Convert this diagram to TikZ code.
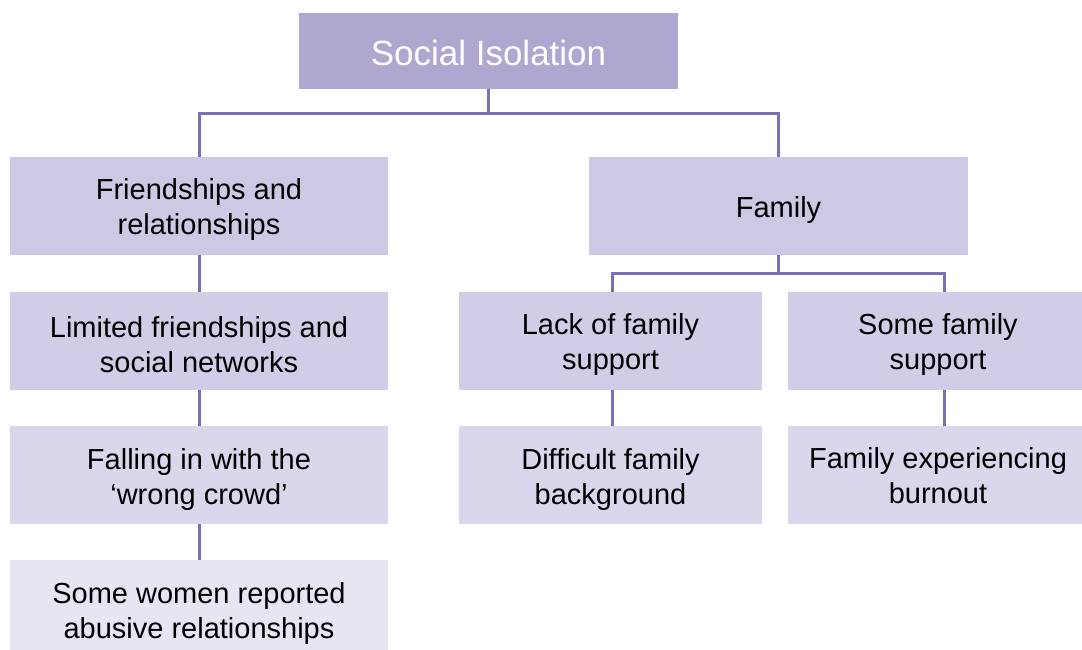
\documentclass[tikz,border=0pt]{standalone}
\usepackage{fontspec}
\setmainfont{Liberation Sans}
\definecolor{headfill}{HTML}{B0A7D1}
\definecolor{lvlA}{HTML}{CEC8E4}
\definecolor{lvlB}{HTML}{D2CDE7}
\definecolor{lvlC}{HTML}{DAD6EC}
\definecolor{lvlD}{HTML}{E8E5F2}
\definecolor{linkcol}{HTML}{7B6FB6}
\begin{document}
\begin{tikzpicture}[x=1pt,y=-1pt,
  box/.style={inner sep=0pt, minimum height=98pt},
  txt/.style={inner sep=0pt, align=center, text=black, yshift=-4pt,
    font=\fontsize{29}{35}\selectfont},
  link/.style={draw=linkcol, line width=3pt}]
\useasboundingbox (0,0) rectangle (1082,650);

% boxes, each with its caption set as a centred label
\node[box, fill=headfill, minimum width=379pt, minimum height=76pt,
      label={[txt, text=white, yshift=2pt, font=\fontsize{35}{40}\selectfont]center:Social Isolation}]
  (top) at (488.5,51) {};

\node[box, fill=lvlA, minimum width=378pt,
      label={[txt]center:{Friendships and\\relationships}}] (fr) at (199,206) {};
\node[box, fill=lvlA, minimum width=379pt,
      label={[txt]center:Family}] (fam) at (778.5,206) {};

\node[box, fill=lvlB, minimum width=378pt,
      label={[txt]center:{Limited friendships and\\social networks}}] (lim) at (199,341) {};
\node[box, fill=lvlC, minimum width=378pt,
      label={[txt]center:{Falling in with the\\`wrong crowd'}}] (fall) at (199,475) {};
\node[box, fill=lvlD, minimum width=378pt,
      label={[txt]center:{Some women reported\\abusive relationships}}] (women) at (199,609) {};

\node[box, fill=lvlB, minimum width=303pt,
      label={[txt]center:{Lack of family\\support}}] (lack) at (610.5,341) {};
\node[box, fill=lvlB, minimum width=300pt,
      label={[txt]center:{Some family\\support}}] (some) at (938,341) {};
\node[box, fill=lvlC, minimum width=303pt,
      label={[txt]center:{Difficult family\\background}}] (diff) at (610.5,475) {};
\node[box, fill=lvlC, minimum width=300pt,
      label={[txt, yshift=3pt]center:{Family experiencing\\burnout}}] (burn) at (938,475) {};

% connectors
\coordinate (j1) at (488.5,114);
\coordinate (j2) at (778.5,273);
\coordinate (sN) at ([xshift=6pt]some.north);
\coordinate (bN) at ([xshift=6pt]burn.north);
\coordinate (lN) at ([xshift=1.5pt]lack.north);
\coordinate (dN) at ([xshift=1.5pt]diff.north);

\draw[link] (top.south) -- (j1);
\draw[link] (fr.north) |- (j1) -| (fam.north);
\draw[link] (fr.south) -- (lim.north);
\draw[link] (lim.south) -- (fall.north);
\draw[link] (fall.south) -- (women.north);

\draw[link] (fam.south) -- (j2);
\draw[link] (lN) |- (j2) -| (sN);
\draw[link] ([xshift=1.5pt]lack.south) -- (dN);
\draw[link] ([xshift=6pt]some.south) -- (bN);
\end{tikzpicture}
\end{document}
